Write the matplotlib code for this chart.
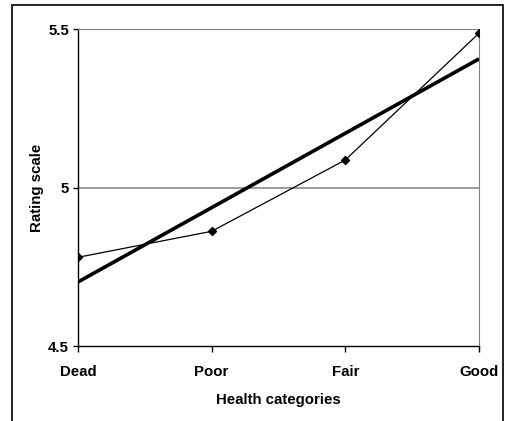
import numpy as np
import matplotlib
matplotlib.use("Agg")
import matplotlib.pyplot as plt
from matplotlib.patches import Rectangle

categories = ["Dead", "Poor", "Fair", "Good"]
ratings = [4.78, 4.862, 5.087, 5.487]
y_ticks = [4.5, 5.0, 5.5]
y_tick_labels = ["4.5", "5", "5.5"]

plt.rcParams["font.family"] = ["Liberation Sans", "DejaVu Sans"]
plt.rcParams["font.weight"] = "bold"

fig = plt.figure(figsize=(5.11, 4.21), dpi=100)
ax = fig.add_axes([0.1526, 0.178, 0.7848, 0.753])

x = np.arange(len(categories))

# linear trend through the ratings
slope, intercept = np.polyfit(x, ratings, 1)
ax.plot(x, slope * x + intercept, color="black", lw=2.6, solid_capstyle="butt", zorder=3)
ax.plot(x, ratings, color="black", lw=0.9, marker="D", ms=4.5, zorder=4)

ax.axhline(5.0, color="#808080", lw=1.1, zorder=1)

ax.set_xlim(0, 3)
ax.set_ylim(4.5, 5.5)
ax.set_xticks(x)
ax.set_xticklabels(categories, fontsize=10.8, fontweight="bold")
ax.set_yticks(y_ticks)
ax.set_yticklabels(y_tick_labels, fontsize=10.8, fontweight="bold")
ax.tick_params(axis="x", direction="out", length=4.5, width=1, color="black", pad=9)
ax.tick_params(axis="y", direction="out", length=3.5, width=1, color="black", pad=3)

ax.spines["left"].set_color("black")
ax.spines["bottom"].set_color("black")
ax.spines["left"].set_linewidth(1)
ax.spines["bottom"].set_linewidth(1)
ax.spines["top"].set_color("#808080")
ax.spines["right"].set_color("#808080")

ax.set_xlabel("Health categories", fontsize=10.8, fontweight="bold", labelpad=10)
ax.set_ylabel("Rating scale", fontsize=10.8, fontweight="bold", labelpad=3)

# chart frame
fig.patches.append(Rectangle((12 / 511, -0.05), 491 / 511, 1.05 - 5 / 421,
                             transform=fig.transFigure, fill=False,
                             edgecolor="#222222", lw=1.4))

fig.savefig("out.png", dpi=100)
